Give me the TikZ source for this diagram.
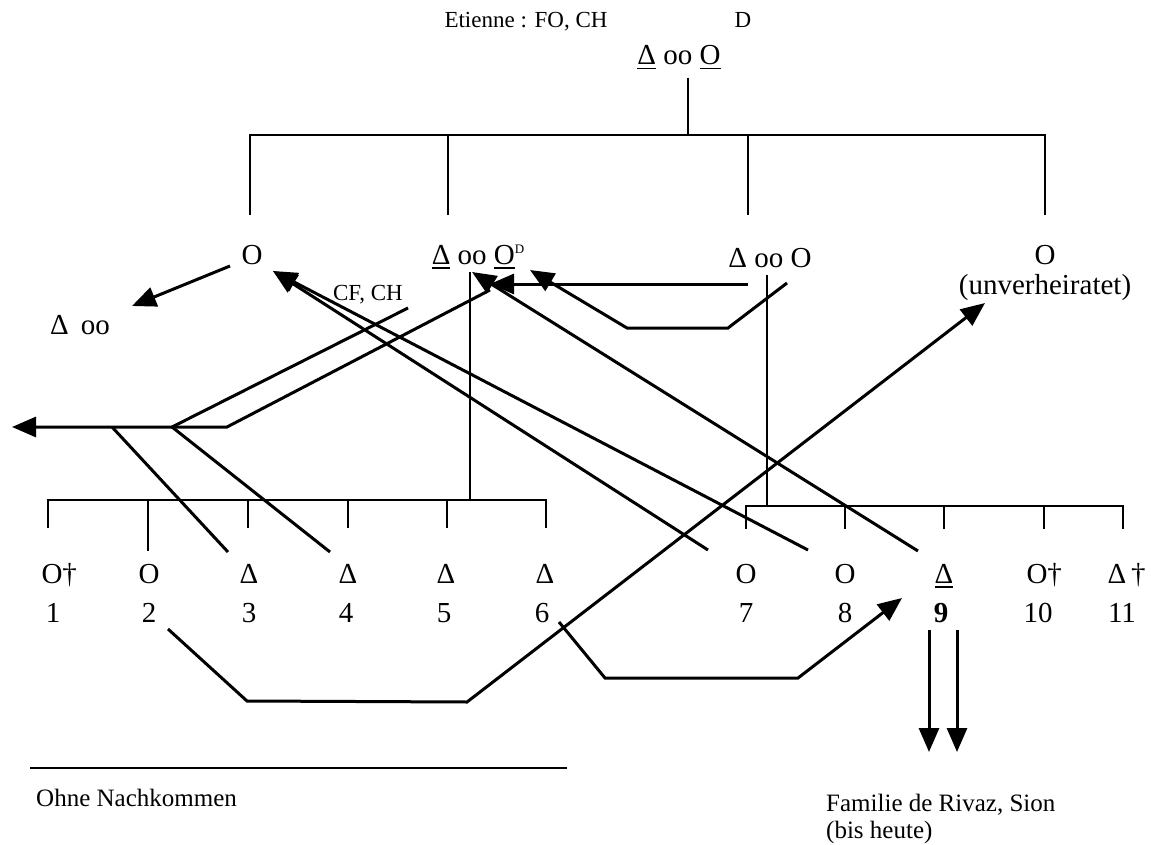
\documentclass[tikz,border=0pt]{standalone}
\usepackage{fontspec}
\setmainfont{Liberation Serif}
\usetikzlibrary{arrows.meta, positioning}

\newcommand\ulsym[1]{\setbox0\hbox{#1}\rlap{\rule[-4.5pt]{\wd0}{1.5pt}}\box0\relax}
\newcommand\smallmark[1]{\raisebox{11pt}{\fontsize{13}{13}\selectfont #1}}

\begin{document}
\begin{tikzpicture}[
    x=1pt, y=-1pt,
    person/.style={anchor=base, inner sep=0pt, font=\fontsize{29}{32}\selectfont},
    remark/.style={anchor=base, inner sep=0pt, font=\fontsize{23}{27}\selectfont},
    footer/.style={anchor=base west, inner sep=0pt, font=\fontsize{25}{29}\selectfont},
    tree/.style={line width=1.3pt},
    route/.style={line width=3pt},
    move/.style={line width=3pt, -{Triangle[length=24pt, width=20pt]}}
]
\useasboundingbox (0,0) rectangle (1151,845);

\node (etienne) [remark] at (526,28) {Etienne : FO, CH};
\node (dmark) [remark] at (743,28) {D};
\node (couple) [person] at (679,65) {\ulsym{Δ} oo \ulsym{O}};

\node (sister1) [person] at (252,264) {O};
\node (couple2) [person] at (478,264) {\ulsym{Δ} oo \ulsym{O}\smallmark{D}};
\node (couple3) [person] at (770,267) {Δ oo O};
\node (sister4) [person] at (1045,264) {O};
\node (single) [person] at (1045,294) {(unverheiratet)};
\node (cfch) [remark] at (368,300) {CF, CH};
\node (spouse) [person] at (80,334) {Δ\, oo};

\node (kid1) [person] at (52,583) {O\rlap{†}};
\node (kid2) [person] at (149,583) {O};
\node (kid3) [person] at (249,583) {Δ};
\node (kid4) [person] at (348,583) {Δ};
\node (kid5) [person] at (446,583) {Δ};
\node (kid6) [person] at (545,583) {Δ};
\node (kid7) [person] at (746,583) {O};
\node (kid8) [person] at (845,583) {O};
\node (kid9) [person] at (944,583) {\ulsym{Δ}};
\node (kid10) [person] at (1037,583) {O\rlap{†}};
\node (kid11) [person] at (1117,583) {Δ\rlap{\,†}};

\node (num1) [person] at (53,622) {1};
\node (num2) [person] at (149,622) {2};
\node (num3) [person] at (249,622) {3};
\node (num4) [person] at (346,622) {4};
\node (num5) [person] at (444,622) {5};
\node (num6) [person] at (542,622) {6};
\node (num7) [person] at (746,622) {7};
\node (num8) [person] at (845,622) {8};
\node (num9) [person] at (941,622) {\textbf{9}};
\node (num10) [person] at (1038,622) {10};
\node (num11) [person] at (1122,622) {11};

\node (ohne) [footer] at (36,806) {Ohne Nachkommen};
\node (rivaz) [footer] at (826,811) {Familie de Rivaz, Sion};
\node (heute) [footer] at (826,838) {(bis heute)};

\coordinate (bar) at (688,135);
\coordinate (bar2) at (470,500);
\coordinate (bar3) at (767,506);
\draw[tree] ([yshift=-13pt]couple.base -| bar) -- (bar);
\draw[tree] (250,215) |- (bar) -| (1045,215);
\draw[tree] (448,135) -- (448,215);
\draw[tree] (748,135) -- (748,215);

\draw[tree] (470,272) -- (bar2);
\draw[tree] (48,528) |- (546,500) -- (546,528);
\draw[tree] (148,500) -- (148,551);
\foreach \x in {248,348,447} \draw[tree] (\x,500) -- ++(0,28);
\draw[tree] (767,275) -- (bar3);
\draw[tree] (746,529) |- (1123,506) -- (1123,529);
\foreach \x in {845,944,1044} \draw[tree] (\x,506) -- ++(0,23);

\coordinate (sis1out) at (230,266);
\coordinate (spousein) at (132,306);
\coordinate (sis1in) at (273,271);
\coordinate (k7out) at (708,550);
\coordinate (k8out) at (808,550);
\coordinate (k9out) at (918,551);
\coordinate (cpl2inA) at (472,272);
\coordinate (cpl2inB) at (490,284);
\coordinate (cpl2inC) at (530,270);
\coordinate (cpl3outA) at (748,284);
\coordinate (cpl3outB) at (787,283);
\coordinate (cpl2out) at (490,290);
\coordinate (cfchout) at (408,308);
\coordinate (fork1) at (112,427);
\coordinate (fork2) at (172,427);
\coordinate (fork3) at (227,427);
\coordinate (west) at (12,427);
\coordinate (k3in) at (228,552);
\coordinate (k4in) at (330,552);
\coordinate (k2out) at (168,629);
\coordinate (singlein) at (985,303);
\coordinate (k6out) at (559,622);
\coordinate (k9in) at (902,598);
\coordinate (k9downA) at (929,630);
\coordinate (k9downB) at (957,630);
\coordinate (rulel) at (30,768);
\coordinate (ruler) at (567,768);

\draw[move] (sis1out) -- (spousein);
\draw[move] (k7out) -- (sis1in);
\draw[move] (k8out) -- (sis1in);
\draw[move] (k9out) -- (cpl2inA);
\draw[move] (cpl3outA) -- (cpl2inB);
\draw[move] (cpl3outB) -- ++(-59,45) -- ++(-101,0) -- (cpl2inC);
\draw[move] (cpl2out) -- (fork3) -- (west);
\draw[route] (cfchout) -- (fork2);
\draw[route] (fork1) -- (k3in);
\draw[route] (fork2) -- (k4in);
\draw[move] (k2out) -- ++(79,72) -- ++(220,1) -- (singlein);
\draw[move] (k6out) -- ++(46,56) -- ++(193,0) -- (k9in);
\draw[move] (k9downA) -- ++(0,122);
\draw[move] (k9downB) -- ++(0,122);

\draw[tree] (rulel) -- (ruler);

\end{tikzpicture}
\end{document}
